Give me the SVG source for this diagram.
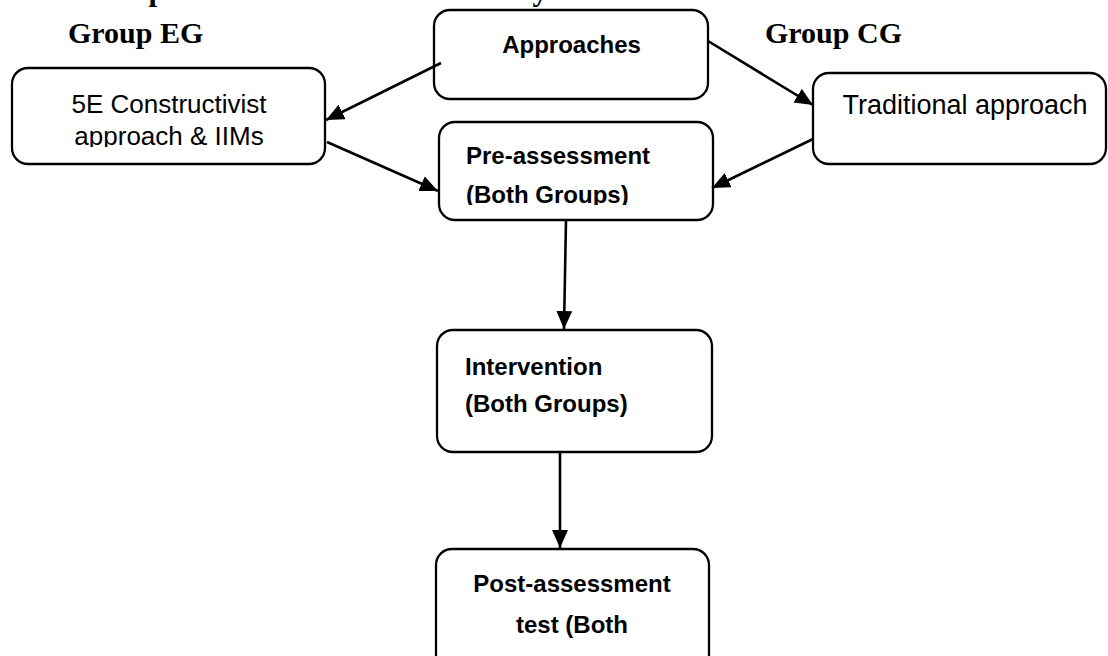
<svg xmlns="http://www.w3.org/2000/svg" width="1108" height="656" viewBox="0 0 1108 656">
  <style>
    .box { fill: #ffffff; stroke: #000000; stroke-width: 2.3; }
    .hdr { font-family: "Liberation Serif", "Times New Roman", serif; font-weight: bold; fill: #000000; }
    .t { font-family: "Liberation Sans", Arial, sans-serif; fill: #000000; }
    .b { font-weight: bold; }
    .conn { stroke: #000000; stroke-width: 2.6; fill: none; marker-end: url(#arrow); }
  </style>
  <defs>
    <marker id="arrow" markerUnits="userSpaceOnUse" markerWidth="19" markerHeight="17" refX="18" refY="8" orient="auto">
      <path d="M0,0 L18,8 L0,16 z" fill="#000000"/>
    </marker>
    <clipPath id="clip5e"><rect x="12" y="68" width="313" height="79"/></clipPath>
    <clipPath id="clippre"><rect x="439" y="122" width="274" height="83"/></clipPath>
  </defs>
  <rect x="0" y="0" width="1108" height="656" fill="#ffffff"/>

  <text class="hdr" x="20" y="0" font-size="31" textLength="528" lengthAdjust="spacingAndGlyphs">3.4 Conceptual Framework of the Study</text>
  <text class="hdr" x="68" y="43" font-size="30">Group EG</text>
  <text class="hdr" x="765" y="43" font-size="30">Group CG</text>

  <g id="approaches">
    <rect class="box" x="434" y="10" width="274" height="89" rx="16" ry="16"/>
    <text class="t b" x="571.5" y="53" font-size="24" text-anchor="middle">Approaches</text>
  </g>

  <g id="constructivist">
    <rect class="box" x="12" y="68" width="313" height="96" rx="16" ry="16"/>
    <g clip-path="url(#clip5e)">
      <text class="t" x="169" y="113" font-size="26" text-anchor="middle">5E Constructivist</text>
      <text class="t" x="169" y="145" font-size="26" text-anchor="middle">approach &amp; IIMs</text>
    </g>
  </g>

  <g id="traditional">
    <rect class="box" x="813" y="73" width="293" height="91" rx="16" ry="16"/>
    <text class="t" x="965" y="114" font-size="27" text-anchor="middle">Traditional approach</text>
  </g>

  <g id="pre-assessment">
    <rect class="box" x="439" y="122" width="274" height="98" rx="16" ry="16"/>
    <g clip-path="url(#clippre)">
      <text class="t b" x="466" y="164" font-size="24">Pre-assessment</text>
      <text class="t b" x="466" y="203" font-size="24">(Both Groups)</text>
    </g>
  </g>

  <g id="intervention">
    <rect class="box" x="437" y="330" width="275" height="122" rx="16" ry="16"/>
    <text class="t b" x="465" y="375" font-size="24">Intervention</text>
    <text class="t b" x="465" y="412" font-size="24">(Both Groups)</text>
  </g>

  <g id="post-assessment">
    <rect class="box" x="436" y="549" width="273" height="125" rx="16" ry="16"/>
    <text class="t b" x="572" y="592" font-size="24" text-anchor="middle">Post-assessment</text>
    <text class="t b" x="572" y="633" font-size="24" text-anchor="middle">test (Both</text>
  </g>

  <g id="connectors">
    <line class="conn" x1="441" y1="63" x2="326" y2="120"/>
    <line class="conn" x1="327" y1="142" x2="438" y2="191"/>
    <line class="conn" x1="708" y1="41" x2="813" y2="105"/>
    <line class="conn" x1="813" y1="139" x2="712" y2="188"/>
    <line class="conn" x1="566" y1="220" x2="564" y2="329"/>
    <line class="conn" x1="560" y1="452" x2="560" y2="548"/>
  </g>
</svg>
